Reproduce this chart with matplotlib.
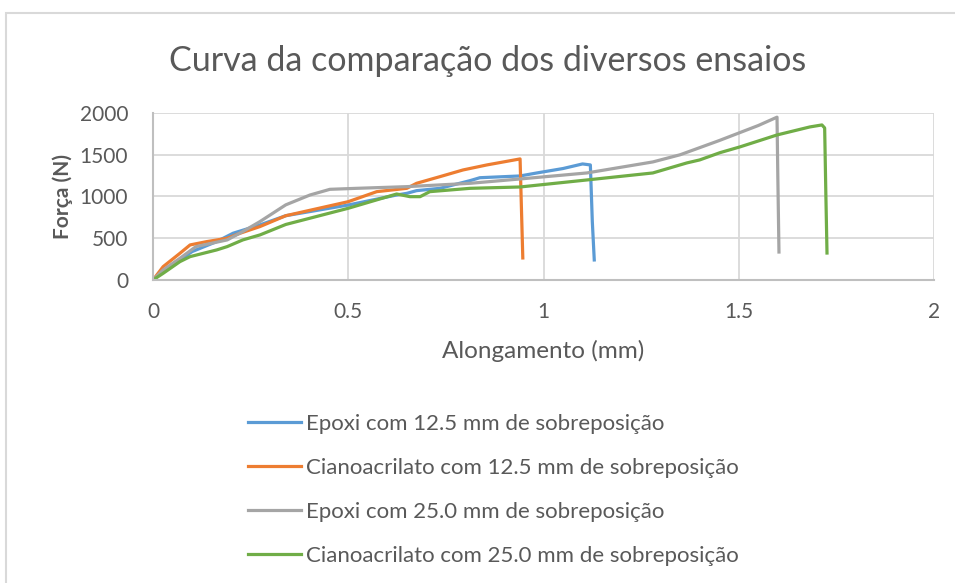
import numpy as np
import matplotlib
matplotlib.use("Agg")
import matplotlib.pyplot as plt
from matplotlib.patches import Rectangle

plt.rcParams['font.family'] = ['Lato', 'DejaVu Sans']

# Epoxi 12.5 mm
ep12_x = [0, 0.026, 0.069, 0.1, 0.163, 0.205, 0.274, 0.34, 0.5, 0.624, 0.65, 0.675,
          0.735, 0.812, 0.837, 0.94, 0.983, 1.05, 1.10, 1.12, 1.125, 1.13]
ep12_y = [0, 100, 240, 340, 460, 560, 660, 770, 898, 1018, 1038, 1070,
          1098, 1190, 1225, 1246, 1282, 1335, 1390, 1378, 700, 240]

# Cianoacrilato 12.5 mm
ci12_x = [0, 0.026, 0.069, 0.095, 0.138, 0.19, 0.223, 0.274, 0.34, 0.5, 0.573, 0.65,
          0.675, 0.735, 0.794, 0.855, 0.94, 0.947]
ci12_y = [0, 160, 320, 420, 460, 500, 560, 640, 770, 938, 1058, 1098,
          1158, 1238, 1318, 1378, 1450, 264]

# Epoxi 25.0 mm
ep25_x = [0, 0.026, 0.069, 0.11, 0.19, 0.23, 0.274, 0.34, 0.402, 0.453, 0.522, 0.65,
          0.812, 0.94, 1.111, 1.28, 1.35, 1.40, 1.45, 1.50, 1.55, 1.598, 1.60, 1.603]
ep25_y = [0, 120, 260, 400, 480, 580, 700, 900, 1018, 1086, 1098, 1118,
          1158, 1210, 1282, 1414, 1500, 1585, 1670, 1760, 1850, 1950, 1258, 335]

# Cianoacrilato 25.0 mm
ci25_x = [0, 0.026, 0.069, 0.095, 0.163, 0.19, 0.23, 0.274, 0.34, 0.5, 0.624, 0.658,
          0.684, 0.709, 0.812, 0.94, 1.111, 1.28, 1.367, 1.40, 1.452, 1.503, 1.598,
          1.682, 1.713, 1.72, 1.723, 1.726]
ci25_y = [0, 80, 220, 280, 360, 400, 480, 540, 665, 859, 1030, 998,
          998, 1058, 1098, 1114, 1198, 1282, 1402, 1438, 1525, 1594, 1737,
          1833, 1857, 1821, 1042, 323]

labels = ['Epoxi com 12.5 mm de sobreposição',
          'Cianoacrilato com 12.5 mm de sobreposição',
          'Epoxi com 25.0 mm de sobreposição',
          'Cianoacrilato com 25.0 mm de sobreposição']
colors = ['#5B9BD5', '#ED7D31', '#A5A5A5', '#70AD47']

fig = plt.figure(figsize=(9.55, 5.83), dpi=100)
ax = fig.add_axes([153/955, 1-280/583, (934-153)/955, (280-113)/583])

series = [(ep12_x, ep12_y), (ci12_x, ci12_y), (ep25_x, ep25_y), (ci25_x, ci25_y)]
for (xs, ys), lab, c in zip(series, labels, colors):
    ax.plot(xs, ys, color=c, lw=2.3, label=lab, solid_joinstyle='round')

ax.set_xlim(0, 2)
ax.set_ylim(0, 2000)
ax.set_xticks([0, 0.5, 1, 1.5, 2])
ax.set_xticklabels(['0', '0.5', '1', '1.5', '2'])
ax.set_yticks([0, 500, 1000, 1500, 2000])
ax.grid(True, color='#D9D9D9', lw=1.3)
ax.set_axisbelow(True)
for s in ['top', 'right']:
    ax.spines[s].set_visible(False)
for s in ['left', 'bottom']:
    ax.spines[s].set_color('#BFBFBF')
    ax.spines[s].set_linewidth(1.5)
ax.tick_params(length=0, labelsize=15, colors='#595959', pad=18)
ax.tick_params(axis='x', pad=16)

ax.set_xlabel('Alongamento (mm)', fontsize=17.5, color='#595959', labelpad=13)
ax.set_ylabel('Força (N)', fontsize=15, color='#595959', fontweight='bold', labelpad=5)
fig.text(488/955, 1-61/583, 'Curva da comparação dos diversos ensaios',
         fontsize=24.5, color='#595959', ha='center', va='center')

fig.legend(loc='upper left', bbox_to_anchor=(228/955, 1-394/583), frameon=False,
           fontsize=16, labelcolor='#595959', handlelength=2.4, handletextpad=0.22,
           labelspacing=1.08)

fig.patches.append(Rectangle((6/955, -0.05), 1.1, 1-13/583+0.05, transform=fig.transFigure,
                             fill=False, edgecolor='#D9D9D9', lw=1.5))

fig.savefig('out.png', dpi=100)
